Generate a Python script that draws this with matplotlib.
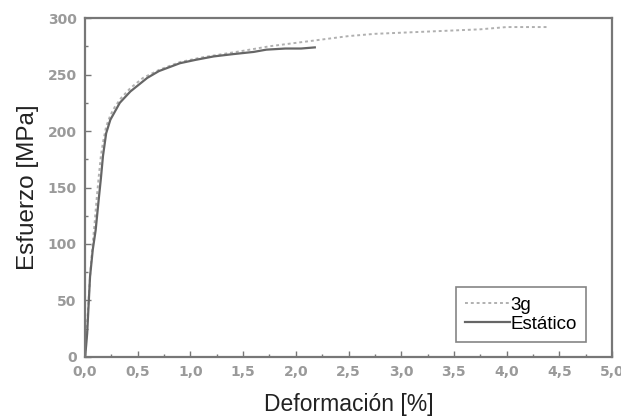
import numpy as np
import matplotlib.pyplot as plt
from matplotlib.ticker import MultipleLocator, FuncFormatter

# Ensayo 3g (punteado)
def_3g = [0.0, 0.01, 0.03, 0.05, 0.07, 0.09, 0.11, 0.13, 0.15, 0.17, 0.20, 0.24,
          0.28, 0.34, 0.43, 0.55, 0.70, 0.90, 1.10, 1.30, 1.50, 1.75, 2.00, 2.25,
          2.50, 2.75, 3.00, 3.25, 3.50, 3.75, 4.00, 4.20, 4.38]
esf_3g = [0, 15, 45, 75, 98, 118, 140, 160, 178, 190, 204, 214,
          221, 229, 238, 247, 254, 261, 265, 268, 271, 275, 278, 281,
          284, 286, 287, 288, 289, 290, 292, 292, 292]

# Ensayo estático (continuo)
def_est = [0.0, 0.01, 0.02, 0.047, 0.073, 0.10, 0.13, 0.15, 0.17, 0.20, 0.24, 0.27,
           0.33, 0.43, 0.59, 0.70, 0.90, 1.05, 1.22, 1.40, 1.60, 1.72, 1.90, 2.05, 2.18]
esf_est = [0, 10, 21, 71, 95, 112, 140, 158, 178, 198, 210, 215,
           225, 235, 247, 253, 260, 263, 266, 268, 270, 272, 273, 273, 274]

fig = plt.figure(figsize=(6.21, 4.19), dpi=100)
ax = fig.add_axes([0.137, 0.148, 0.8485, 0.809])

ax.plot(def_3g, esf_3g, color='#b0b0b0', lw=1.4, ls=(0, (1.5, 1.5)), label='3g')
ax.plot(def_est, esf_est, color='#666666', lw=1.6, label='Estático')

ax.set_xlim(0, 5)
ax.set_ylim(0, 300)
ax.xaxis.set_major_locator(MultipleLocator(0.5))
ax.xaxis.set_minor_locator(MultipleLocator(0.25))
ax.yaxis.set_major_locator(MultipleLocator(50))
ax.yaxis.set_minor_locator(MultipleLocator(25))
ax.xaxis.set_major_formatter(FuncFormatter(lambda v, p: f'{v:.1f}'.replace('.', ',')))

ax.tick_params(which='both', direction='in', colors='#777777', labelcolor='#9a9a9a',
               labelsize=10)
ax.tick_params(which='major', length=4, width=1, pad=6)
ax.tick_params(which='minor', length=2, width=1)
for lab in ax.get_xticklabels() + ax.get_yticklabels():
    lab.set_fontweight('bold')
for s in ax.spines.values():
    s.set_color('#777777')
    s.set_linewidth(1.6)

ax.set_xlabel('Deformación [%]', fontsize=16.5, family='Liberation Sans', color='#222222',
              labelpad=10)
ax.set_ylabel('Esfuerzo [MPa]', fontsize=17.5, family='Liberation Sans', color='#222222',
              labelpad=6)

leg = ax.legend(loc='lower right', bbox_to_anchor=(0.951, 0.044), fancybox=False,
                handlelength=2.4, handletextpad=0.0, borderpad=0.5, labelspacing=0.1,
                borderaxespad=0.0,
                prop={'family': 'Liberation Sans', 'size': 13.5})
leg.get_frame().set_edgecolor('#666666')
leg.get_frame().set_linewidth(1.2)

fig.savefig('out.png', dpi=100)
